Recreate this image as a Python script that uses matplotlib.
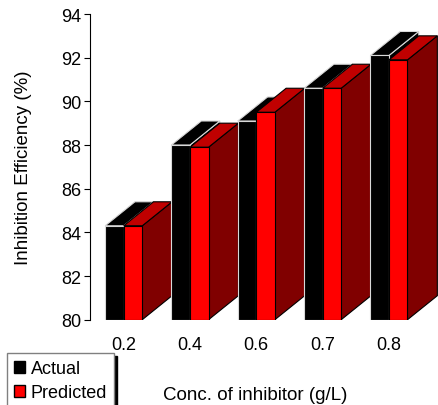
import numpy as np
from matplotlib import pyplot as plt
from matplotlib.patches import Polygon, Patch

plt.rcParams['font.family'] = ['Liberation Sans', 'DejaVu Sans']

categories = ['0.2', '0.4', '0.6', '0.7', '0.8']
actual = [84.3, 88.0, 89.1, 90.6, 92.1]
predicted = [84.3, 87.9, 89.5, 90.6, 91.9]

base = 80
width = 0.28
depth_x = 0.45
depth_y = 1.10


def draw_box(ax, x0, value, front, top, side, edge):
    # front face through bar(), then side and top faces as parallelograms
    x1 = x0 + width
    ax.add_patch(Polygon([(x1, base), (x1 + depth_x, base + depth_y),
                          (x1 + depth_x, value + depth_y), (x1, value)],
                         closed=True, facecolor=side, edgecolor=edge, lw=0.8))
    ax.add_patch(Polygon([(x0, value), (x1, value), (x1 + depth_x, value + depth_y),
                          (x0 + depth_x, value + depth_y)],
                         closed=True, facecolor=top, edgecolor=edge, lw=0.8))
    ax.bar(x0, value - base, width=width, bottom=base, align='edge',
           color=front, edgecolor=edge, lw=0.8)


fig = plt.figure(figsize=(4.38, 4.06), dpi=100)
ax = fig.add_axes([90 / 438, 85.3 / 406, 348 / 438, 305.7 / 406])

x = np.arange(len(categories))
for i in range(len(categories)):
    draw_box(ax, x[i] - width, actual[i], 'black', 'black', 'black', '#d8d8d8')
    draw_box(ax, x[i], predicted[i], '#ff0000', '#c00000', '#800000', 'black')

ax.set_xlim(-0.508, 4.74)
ax.set_ylim(80, 94)
ax.set_yticks(np.arange(80, 95, 2))
ax.set_xticks(x)
ax.set_xticklabels(categories)
ax.tick_params(axis='x', length=0, pad=12, labelsize=13)
ax.tick_params(axis='y', length=4.3, width=0.8, pad=2, labelsize=13)
for s in ['top', 'right', 'bottom']:
    ax.spines[s].set_visible(False)
ax.spines['left'].set_linewidth(0.8)

ax.set_ylabel('Inhibition Efficiency (%)', fontsize=13.5)
ax.yaxis.set_label_coords(-0.167, 0.5)
ax.set_xlabel('Conc. of inhibitor (g/L)', fontsize=13.5)
ax.xaxis.set_label_coords(0.474, -0.216)

handles = [Patch(facecolor='black', edgecolor='black', label='Actual'),
           Patch(facecolor='#ff0000', edgecolor='black', label='Predicted')]
fig.legend(handles=handles, loc='upper left', bbox_to_anchor=(7 / 438, 52 / 406),
           bbox_transform=fig.transFigure, borderaxespad=0, fontsize=13,
           handlelength=0.6, handleheight=0.6, handletextpad=0.3,
           labelspacing=0.4, borderpad=0.4, fancybox=False,
           edgecolor='#808080', shadow={'color': 'black', 'alpha': 1})

fig.savefig('out.png', dpi=100)
